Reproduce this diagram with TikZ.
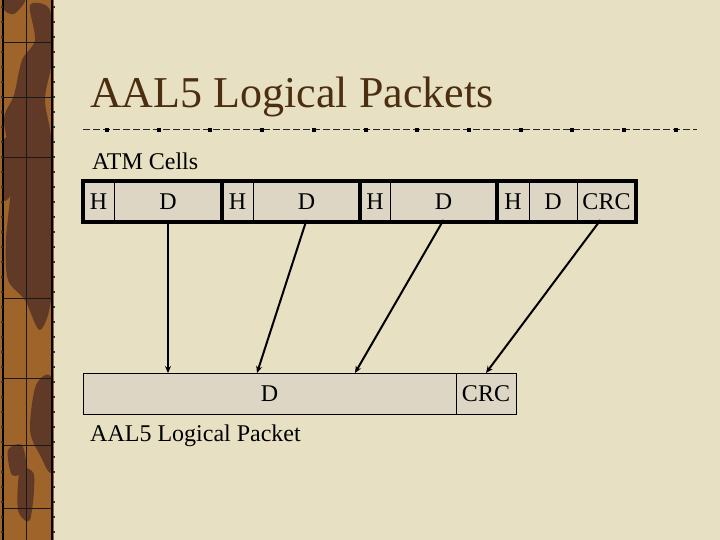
\documentclass[tikz,border=0pt]{standalone}
\usepackage{fontspec}
\setmainfont{Liberation Serif}
\usetikzlibrary{arrows.meta}
\definecolor{bg}{RGB}{231,224,194}
\definecolor{cellfill}{RGB}{222,214,196}
\definecolor{titlec}{RGB}{75,45,15}
\definecolor{stripc}{RGB}{158,100,42}
\definecolor{stripd}{RGB}{96,58,38}
\tikzset{
  cellbox/.style={draw=black, line width=1pt, fill=cellfill, inner sep=0pt, outer sep=0pt,
    minimum height=41pt, font=\fontsize{24}{24}\selectfont},
  pktbox/.style={draw=black, line width=1pt, fill=cellfill, inner sep=0pt, outer sep=0pt,
    minimum height=41pt, font=\fontsize{24}{24}\selectfont},
  thickline/.style={line width=4pt, black},
  conn/.style={line width=2pt, -{Stealth[length=7pt,width=6pt]}},
  label/.style={anchor=base west, inner sep=0pt, font=\fontsize{24}{24}\selectfont},
  dashline/.style={line width=1pt, black!85, dash pattern=on 7pt off 3pt},
  gridl/.style={line width=1pt, black!90}
}
\begin{document}
\begin{tikzpicture}[x=1pt,y=-1pt]
\useasboundingbox (0,0) rectangle (720,540);
\fill[bg] (0,0) rectangle (720,540);
% left decorative strip
\fill[stripc] (0,0) rectangle (54,540);
\begin{scope}
\clip (4,0) rectangle (51,540);
\fill[stripd] plot[smooth cycle] coordinates {(30,5) (50,10) (52,60) (45,100) (52,150) (52,290) (40,330) (25,300) (8,280) (6,240) (12,170) (4,120) (14,95) (22,60) (35,40)};
\fill[stripd] plot[smooth cycle] coordinates {(4,140) (20,145) (18,180) (4,200)};
\fill[stripd] plot[smooth cycle] coordinates {(36,385) (52,380) (52,470) (40,455) (30,430)};
\fill[stripd] plot[smooth cycle] coordinates {(8,450) (22,445) (26,470) (12,475)};
\fill[stripd] plot[smooth cycle] coordinates {(20,470) (34,475) (30,520) (18,510)};
\fill[stripd] plot[smooth cycle] coordinates {(4,0) (25,0) (14,14) (4,10)};
\end{scope}
\draw[line width=2pt] (3,0) -- (3,540);
\draw[line width=2pt] (52,0) -- (52,540);
\draw[gridl] (26,0) -- (26,540);
\foreach \yy in {43,98,158,298,378,445,508} \draw[gridl] (3,\yy) -- (52,\yy);
\foreach \yy in {6,21,...,540} {\fill[black!80] (0.5,\yy) rectangle +(2,2); \fill[black!80] (52.5,\yy) rectangle +(2,2);}
% title
\node[anchor=base west, inner sep=0pt, font=\fontsize{44}{44}\selectfont, text=titlec] (title) at (90,108) {AAL5 Logical Packets};
\draw[dashline] (83,130) -- (697,130);
\foreach \i in {0,...,11} \fill[black] ({107+51.7*\i-2},128) rectangle +(4,4);
% ATM cells
\node[label] (atm) at (92,170) {ATM Cells};
\node[cellbox, minimum width=31pt] (h1) at (98.5,201.5) {H};
\node[cellbox, minimum width=108pt] (d1) at (168,201.5) {D};
\node[cellbox, minimum width=31pt] (h2) at (237.5,201.5) {H};
\node[cellbox, minimum width=107pt] (d2) at (306.5,201.5) {D};
\node[cellbox, minimum width=30pt] (h3) at (375,201.5) {H};
\node[cellbox, minimum width=107pt] (d3) at (443.5,201.5) {D};
\node[cellbox, minimum width=32pt] (h4) at (513,201.5) {H};
\node[cellbox, minimum width=48pt] (d4) at (553,201.5) {D};
\node[cellbox, minimum width=59pt] (c4) at (606.5,201.5) {CRC};
\draw[thickline] (h1.north west) rectangle (c4.south east);
\draw[thickline] (h2.north west) -- (h2.south west);
\draw[thickline] (h3.north west) -- (h3.south west);
\draw[thickline] (h4.north west) -- (h4.south west);
% packet
\node[pktbox, minimum width=373pt] (pd) at (269.5,393.5) {D};
\node[pktbox, minimum width=60pt] (pc) at (486,393.5) {CRC};
\node[label] (pkt) at (90,441) {AAL5 Logical Packet};
% connectors
\draw[conn] ([yshift=2pt]d1.south) -- ([xshift=85pt]pd.north west);
\draw[conn] ([yshift=2pt]d2.south) -- ([xshift=174pt]pd.north west);
\draw[conn] ([yshift=2pt]d3.south) -- ([xshift=272pt]pd.north west);
\draw[conn] ([xshift=-6pt,yshift=2pt]c4.south) -- (pc.north);
\end{tikzpicture}
\end{document}
